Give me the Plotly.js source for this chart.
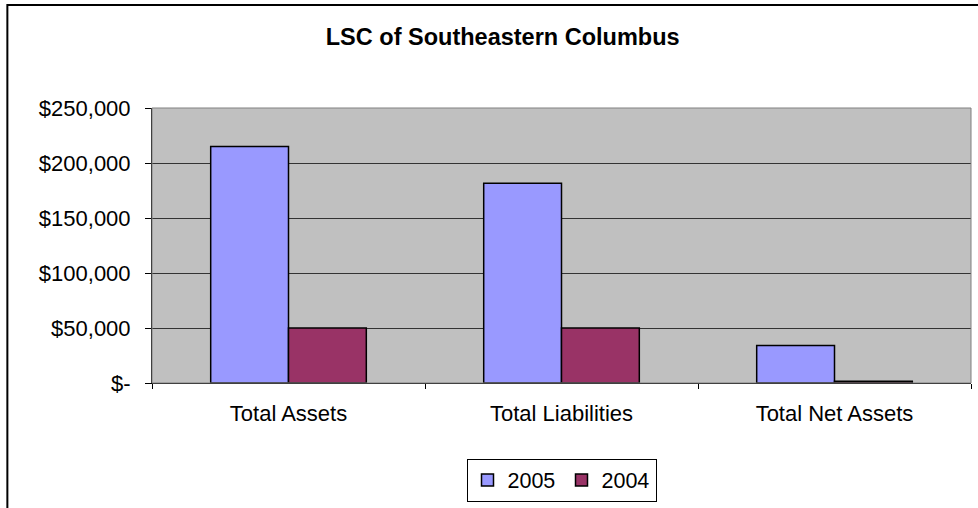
<!DOCTYPE html>
<html>
<head>
<meta charset="utf-8">
<script src="https://cdn.plot.ly/plotly-3.0.1.min.js"></script>
<style>
html,body{margin:0;padding:0;background:#fff;}
#chart{width:978px;height:508px;}
</style>
</head>
<body>
<div id="chart"></div>
<script>
const categories = ["Total Assets", "Total Liabilities", "Total Net Assets"];
const values2005 = [215000, 181500, 34000];
const values2004 = [50000, 50000, 1500];
const seriesNames = ["2005", "2004"];
const yTickVals = [0, 50000, 100000, 150000, 200000, 250000];
const yTickText = ["$-", "$50,000", "$100,000", "$150,000", "$200,000", "$250,000"];

const font = "Liberation Sans, Arial, sans-serif";
const data = [
  {type: "bar", name: seriesNames[0], x: categories, y: values2005,
   marker: {color: "#9999FF", line: {color: "#000", width: 1.5}}},
  {type: "bar", name: seriesNames[1], x: categories, y: values2004,
   marker: {color: "#993366", line: {color: "#000", width: 1.5}}}
];
const layout = {
  width: 978, height: 508,
  margin: {l: 152, r: 7, t: 108, b: 125},
  paper_bgcolor: "#fff", plot_bgcolor: "#C0C0C0",
  font: {family: font, size: 22, color: "#000"},
  title: {text: "<b>LSC of Southeastern Columbus</b>", x: 0.514, xanchor: "center", y: 0.927, yanchor: "middle",
          font: {family: font, size: 23.5, color: "#000"}},
  barmode: "group", bargap: 0.43, bargroupgap: 0,
  showlegend: true,
  legend: {orientation: "h", x: 0.5, xanchor: "center", y: -0.353, yanchor: "middle",
           bordercolor: "#000", borderwidth: 1, font: {family: font, size: 21.5},
           itemwidth: 30, entrywidth: 49, entrywidthmode: "pixels", tracegroupgap: 0},
  xaxis: {type: "category", tickson: "boundaries", ticks: "outside", ticklen: 5, tickcolor: "#000",
          showline: true, linecolor: "#000", linewidth: 1, showgrid: false,
          tickfont: {family: font, size: 22}, ticklabelstandoff: 11},
  yaxis: {range: [0, 250000], tickvals: yTickVals, ticktext: yTickText, ticks: "outside", ticklen: 6,
          tickcolor: "#000", showline: true, linecolor: "#000", linewidth: 1,
          showgrid: true, gridcolor: "#333", gridwidth: 1, zeroline: false,
          tickfont: {family: font, size: 22}, ticklabelstandoff: 10},
  shapes: [
    {type: "rect", xref: "paper", yref: "paper", x0: 0, x1: 1, y0: 0, y1: 1,
     line: {color: "#808080", width: 1}},
    {type: "rect", xref: "paper", yref: "paper", x0: -0.1766, x1: 1.01, y0: -0.98, y1: 1.3745,
     line: {color: "#000", width: 2}}
  ]
};
Plotly.newPlot("chart", data, layout, {displayModeBar: false});
</script>
</body>
</html>
